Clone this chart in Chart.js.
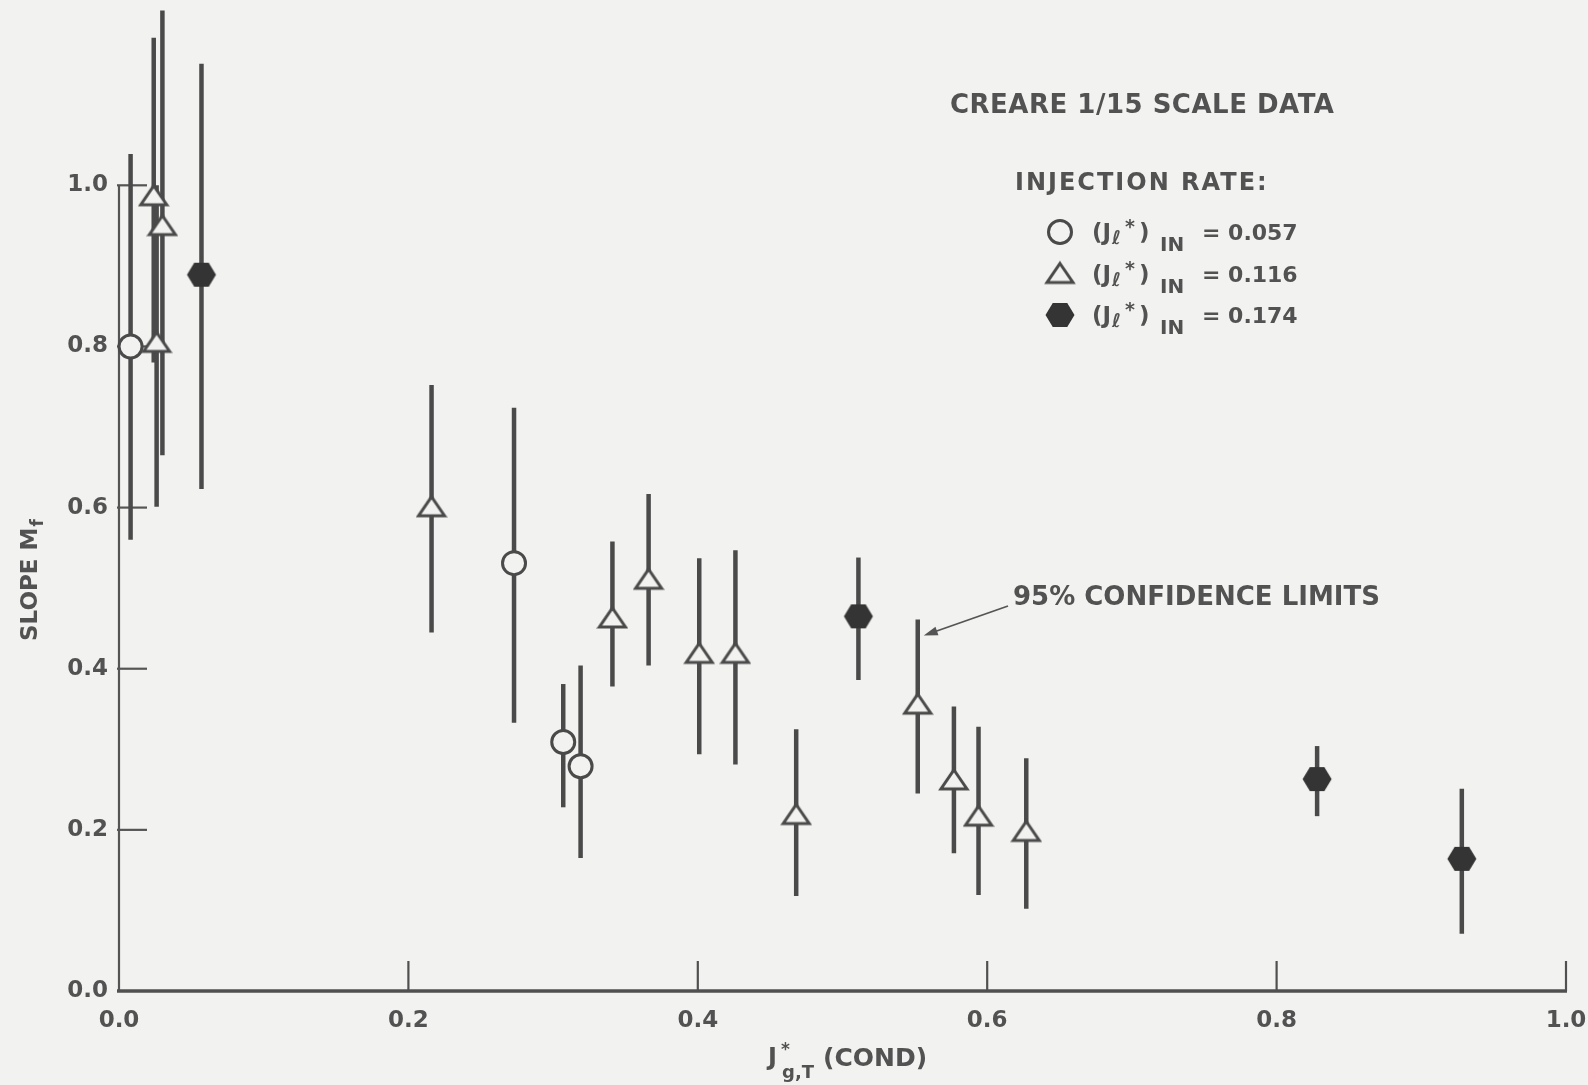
<!DOCTYPE html>
<html>
<head>
<meta charset="utf-8">
<title>Slope M_f vs J*g,T (COND)</title>
<script src="https://cdn.jsdelivr.net/npm/chart.js@4.4.1/dist/chart.umd.min.js"></script>
<style>
  html, body { margin: 0; padding: 0; background: #f2f2f0; }
  canvas { display: block; }
</style>
</head>
<body>
<canvas id="chart" width="1588" height="1085"></canvas>
<script>
// ---- data ---------------------------------------------------------------
const xTicks = [0, 0.2, 0.4, 0.6, 0.8, 1.0];
const yTicks = [0, 0.2, 0.4, 0.6, 0.8, 1.0];
const injectionRates = ['0.057', '0.116', '0.174'];

// (Jl*)IN = 0.057, open circles
const rate057X  = [0.008, 0.273, 0.307, 0.319];
const rate057Y  = [0.800, 0.531, 0.309, 0.279];
const rate057Lo = [0.560, 0.333, 0.228, 0.165];
const rate057Hi = [1.039, 0.724, 0.381, 0.404];

// (Jl*)IN = 0.116, open triangles
const rate116X  = [0.024, 0.030, 0.026, 0.216, 0.341, 0.366, 0.401, 0.426, 0.468, 0.552, 0.577, 0.594, 0.627];
const rate116Y  = [0.987, 0.950, 0.805, 0.601, 0.463, 0.511, 0.419, 0.419, 0.219, 0.356, 0.262, 0.217, 0.198];
const rate116Lo = [0.780, 0.665, 0.601, 0.445, 0.378, 0.404, 0.294, 0.281, 0.118, 0.245, 0.171, 0.119, 0.102];
const rate116Hi = [1.183, 1.217, 1.000, 0.752, 0.558, 0.617, 0.537, 0.547, 0.325, 0.461, 0.353, 0.328, 0.289];

// (Jl*)IN = 0.174, filled hexagons
const rate174X  = [0.057, 0.511, 0.828, 0.928];
const rate174Y  = [0.889, 0.465, 0.263, 0.164];
const rate174Lo = [0.623, 0.386, 0.217, 0.071];
const rate174Hi = [1.151, 0.538, 0.304, 0.251];

// ---- styling ------------------------------------------------------------
const BG = '#f2f2f0';
const INK = '#4a4a4a';
const TEXT = '#525252';
const FONT = '"DejaVu Sans", "Liberation Sans", sans-serif';

function triangleMarker() {
  const c = document.createElement('canvas');
  c.width = 32; c.height = 28;
  const g = c.getContext('2d');
  g.beginPath();
  g.moveTo(16, 4); g.lineTo(29, 23); g.lineTo(3, 23); g.closePath();
  g.fillStyle = BG; g.fill();
  g.lineWidth = 3; g.strokeStyle = INK; g.lineJoin = 'miter';
  g.stroke();
  return c;
}

function hexagonMarker() {
  const c = document.createElement('canvas');
  c.width = 32; c.height = 30;
  const g = c.getContext('2d');
  g.beginPath();
  for (let k = 0; k < 6; k++) {
    const a = k * Math.PI / 3;
    const px = 16 + 14.5 * Math.cos(a), py = 15 + 13.8 * Math.sin(a);
    if (k === 0) g.moveTo(px, py); else g.lineTo(px, py);
  }
  g.closePath();
  g.fillStyle = '#343434'; g.fill();
  return c;
}

const TRI = triangleMarker();
const HEX = hexagonMarker();

const seriesList = [
  { x: rate057X, y: rate057Y, lo: rate057Lo, hi: rate057Hi,
    style: { pointStyle: 'circle', radius: 11.5, borderWidth: 3, borderColor: INK, backgroundColor: BG } },
  { x: rate116X, y: rate116Y, lo: rate116Lo, hi: rate116Hi,
    style: { pointStyle: TRI, radius: 14, borderWidth: 0, borderColor: INK, backgroundColor: BG } },
  { x: rate174X, y: rate174Y, lo: rate174Lo, hi: rate174Hi,
    style: { pointStyle: HEX, radius: 14, borderWidth: 0, borderColor: INK, backgroundColor: '#343434' } }
];

const datasets = seriesList.map((s, k) => ({
  label: '(Jℓ*)IN = ' + injectionRates[k],
  data: s.x.map((xv, i) => ({ x: xv, y: s.y[i] })),
  pointStyle: s.style.pointStyle,
  pointRadius: s.style.radius,
  pointBorderWidth: s.style.borderWidth,
  pointBorderColor: s.style.borderColor,
  pointBackgroundColor: s.style.backgroundColor,
  showLine: false,
  clip: false
}));

// ---- plugins ------------------------------------------------------------
const paper = {
  id: 'paper',
  beforeDraw(chart) {
    const { ctx, width, height } = chart;
    ctx.save();
    ctx.fillStyle = BG;
    ctx.fillRect(0, 0, width, height);
    ctx.restore();
  }
};

// Axis lines with inward tick marks
const axesFrame = {
  id: 'axesFrame',
  beforeDatasetsDraw(chart) {
    const { ctx, scales: { x, y } } = chart;
    const x0 = x.getPixelForValue(0), x1 = x.getPixelForValue(1);
    const y0 = y.getPixelForValue(0);
    const yTop = y.getPixelForValue(yTicks[yTicks.length - 1]);
    ctx.save();
    ctx.strokeStyle = '#555';
    // vertical axis, up to the last labelled tick
    ctx.lineWidth = 2.2;
    ctx.beginPath(); ctx.moveTo(x0, y0); ctx.lineTo(x0, yTop); ctx.stroke();
    y.ticks.forEach(t => {
      if (t.value === 0) return;
      const py = y.getPixelForValue(t.value);
      ctx.beginPath(); ctx.moveTo(x0 - 2, py); ctx.lineTo(x0 + 28, py); ctx.stroke();
    });
    // horizontal axis
    ctx.strokeStyle = '#505050';
    ctx.lineWidth = 3.6;
    ctx.beginPath(); ctx.moveTo(x0 - 2, y0); ctx.lineTo(x1 + 1, y0); ctx.stroke();
    ctx.lineWidth = 2.2;
    x.ticks.forEach(t => {
      if (t.value === 0) return;
      const px = x.getPixelForValue(t.value);
      ctx.beginPath(); ctx.moveTo(px, y0); ctx.lineTo(px, y0 - 30); ctx.stroke();
    });
    ctx.restore();
  }
};

// 95% confidence limits as vertical bars behind the markers
const errorBars = {
  id: 'errorBars',
  beforeDatasetsDraw(chart) {
    const { ctx, scales: { x, y } } = chart;
    ctx.save();
    ctx.strokeStyle = INK;
    ctx.lineWidth = 4.5;
    ctx.lineCap = 'butt';
    seriesList.forEach(s => {
      s.x.forEach((xv, i) => {
        const px = x.getPixelForValue(xv);
        ctx.beginPath();
        ctx.moveTo(px, y.getPixelForValue(s.lo[i]));
        ctx.lineTo(px, y.getPixelForValue(s.hi[i]));
        ctx.stroke();
      });
    });
    ctx.restore();
  }
};

// Title, legend, callout and axis titles with sub/superscripts
const annotations = {
  id: 'annotations',
  afterDraw(chart) {
    const { ctx, scales: { x, y } } = chart;
    const f = (s) => `bold ${s}px ${FONT}`;
    ctx.save();
    ctx.fillStyle = TEXT;
    ctx.textBaseline = 'alphabetic';
    ctx.textAlign = 'left';

    ctx.font = f(26);
    ctx.letterSpacing = '0.5px';
    ctx.fillText('CREARE 1/15 SCALE DATA', 950, 113);
    ctx.font = f(24);
    ctx.letterSpacing = '2px';
    ctx.fillText('INJECTION RATE:', 1015, 190);
    ctx.letterSpacing = '0px';

    // legend rows
    const rowY = [232, 273.5, 315];
    seriesList.forEach((s, k) => {
      const cy = rowY[k];
      if (s.style.pointStyle === 'circle') {
        ctx.save();
        ctx.beginPath(); ctx.arc(1060, cy, s.style.radius, 0, Math.PI * 2);
        ctx.fillStyle = s.style.backgroundColor; ctx.fill();
        ctx.lineWidth = s.style.borderWidth; ctx.strokeStyle = s.style.borderColor; ctx.stroke();
        ctx.restore();
      } else {
        Chart.helpers.drawPoint(ctx, {
          pointStyle: s.style.pointStyle, radius: s.style.radius,
          borderWidth: s.style.borderWidth, rotation: 0
        }, 1060, cy);
      }
      const base = cy + 8;
      ctx.font = f(23); ctx.fillText('(J', 1092, base);
      ctx.font = f(19); ctx.fillText('ℓ', 1112, base + 4);
      ctx.font = f(19); ctx.fillText('*', 1125, base - 7);
      ctx.font = f(23); ctx.fillText(')', 1139, base);
      ctx.font = f(20); ctx.fillText('IN', 1160, base + 11);
      ctx.font = f(22); ctx.fillText('= ' + injectionRates[k], 1202, base);
    });

    // callout for the confidence-limit bars
    ctx.font = f(26);
    ctx.fillText('95% CONFIDENCE LIMITS', 1013, 605);
    const tipX = x.getPixelForValue(rate116X[9]) + 6;
    const tipY = y.getPixelForValue(rate116Hi[9]) + 16;
    const sx = 1008, sy = 606;
    const dx = tipX - sx, dy = tipY - sy, len = Math.hypot(dx, dy);
    const ux = dx / len, uy = dy / len;
    ctx.strokeStyle = '#555';
    ctx.lineWidth = 1.8;
    ctx.beginPath(); ctx.moveTo(sx, sy); ctx.lineTo(tipX - ux * 10, tipY - uy * 10); ctx.stroke();
    ctx.beginPath();
    ctx.moveTo(tipX, tipY);
    ctx.lineTo(tipX - ux * 14 - uy * 4.5, tipY - uy * 14 + ux * 4.5);
    ctx.lineTo(tipX - ux * 14 + uy * 4.5, tipY - uy * 14 - ux * 4.5);
    ctx.closePath();
    ctx.fillStyle = '#555'; ctx.fill();

    // y-axis title: SLOPE M_f
    ctx.fillStyle = TEXT;
    ctx.save();
    ctx.translate(37, 641);
    ctx.rotate(-Math.PI / 2);
    ctx.font = f(23);
    ctx.fillText('SLOPE M', 0, 0);
    const w = ctx.measureText('SLOPE M').width;
    ctx.font = f(17);
    ctx.fillText('f', w + 1, 6);
    ctx.restore();

    // x-axis title: J*_{g,T} (COND)
    ctx.font = f(24);
    ctx.fillText('J', 768, 1065);
    ctx.font = f(17);
    ctx.fillText('*', 781, 1055);
    ctx.font = f(18);
    ctx.fillText('g,T', 782, 1078);
    ctx.font = f(25);
    ctx.fillText('(COND)', 823, 1066);

    ctx.restore();
  }
};

// ---- chart --------------------------------------------------------------
const tickFont = { family: FONT, size: 23, weight: 'bold' };

new Chart(document.getElementById('chart'), {
  type: 'scatter',
  data: { datasets },
  options: {
    responsive: false,
    devicePixelRatio: 1,
    animation: false,
    events: [],
    layout: { autoPadding: false, padding: { left: 0, right: 22, top: 0, bottom: 0 } },
    plugins: { legend: { display: false }, tooltip: { enabled: false } },
    scales: {
      x: {
        type: 'linear', position: 'bottom', min: 0, max: 1,
        grid: { display: false, drawTicks: false },
        border: { display: false },
        afterBuildTicks: s => { s.ticks = xTicks.map(v => ({ value: v })); },
        afterFit: s => { s.height = 94; s.paddingLeft = 0; s.paddingRight = 0; },
        ticks: { padding: 16, color: TEXT, font: tickFont, maxRotation: 0,
                 callback: v => Number(v).toFixed(1) }
      },
      y: {
        type: 'linear', position: 'left', min: 0, max: 1.23,
        grid: { display: false, drawTicks: false },
        border: { display: false },
        afterBuildTicks: s => { s.ticks = yTicks.map(v => ({ value: v })); },
        afterFit: s => { s.width = 119; s.paddingTop = 0; s.paddingBottom = 0; },
        ticks: { padding: 11, color: TEXT, font: tickFont,
                 callback: v => Number(v).toFixed(1) }
      }
    }
  },
  plugins: [paper, axesFrame, errorBars, annotations]
});
</script>
</body>
</html>
